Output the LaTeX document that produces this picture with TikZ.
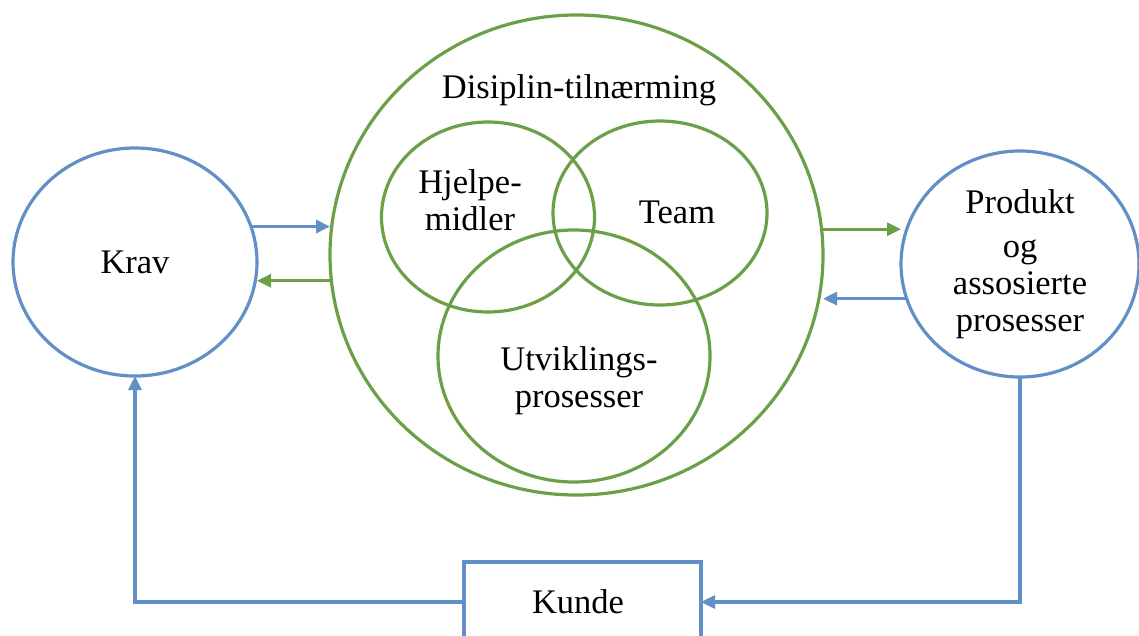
\documentclass[tikz,border=0pt]{standalone}
\usepackage{fontspec}
\setmainfont{Liberation Serif}
\usetikzlibrary{shapes.geometric,arrows.meta}
\definecolor{cblue}{RGB}{96,144,198}
\definecolor{cgreen}{RGB}{108,160,72}
\tikzset{
  bluecirc/.style={ellipse,draw=cblue,line width=3.2pt,inner sep=0pt,outer sep=0pt,align=center},
  greencirc/.style={ellipse,draw=cgreen,line width=3.2pt,inner sep=0pt,outer sep=0pt},
  lbl/.style={inner sep=0pt,outer sep=0pt,align=center},
  barrow/.style={draw=cblue,line width=3.2pt,-{Triangle[length=14pt,width=13pt]}},
  garrow/.style={draw=cgreen,line width=3.2pt,-{Triangle[length=14pt,width=13pt]}},
  kundebox/.style={rectangle,draw=cblue,line width=3.2pt,inner sep=0pt,outer sep=0pt}
}
\begin{document}
\begin{tikzpicture}[x=1pt,y=-1pt,font=\fontsize{34.5}{37}\selectfont]
\useasboundingbox (0,0) rectangle (1139,635);
\clip (0,0) rectangle (1139,635);
\fill[white] (0,0) rectangle (1139,635);
% main circles
\node[bluecirc,minimum width=244pt,minimum height=228pt] (krav) at (135,262) {Krav};
\node[greencirc,minimum width=493pt,minimum height=480pt] (big) at (576.5,255) {};
\node[bluecirc,minimum width=238pt,minimum height=226pt] (prod) at (1020,264)
  {Produkt\\[7pt]og\\assosierte\\prosesser};
% venn circles
\node[greencirc,minimum width=213pt,minimum height=190pt] (hj) at (488,217) {};
\node[greencirc,minimum width=214pt,minimum height=184pt] (team) at (660,213) {};
\node[greencirc,minimum width=272pt,minimum height=252pt] (utv) at (574,356) {};
% labels
\node[lbl] (disiplin) at (579,90) {Disiplin-tilnærming};
\node[lbl] (hjtxt) at (470,200) {Hjelpe-\\midler};
\node[lbl] (teamtxt) at (677,212) {Team};
\node[lbl] (utvtxt) at (579,381) {Utviklings-\\prosesser};
% Kunde
\node[kundebox,minimum width=237pt,minimum height=98pt] (kunde) at (582.5,611) {};
\node[lbl] (kundetxt) at (578,602) {Kunde};
% connectors
\draw[barrow] (krav.17.6) -- (krav.17.6 -| big.west);
\draw[garrow] (big.186.3) -- (big.186.3 -| krav.east);
\draw[garrow] (big.6.5) -- (big.6.5 -| prod.west);
\draw[barrow] (prod.197.4) -- (prod.197.4 -| big.east);
\draw[barrow] (prod.south) |- (kunde.east |- kundetxt);
\draw[barrow] (kunde.west |- kundetxt) -| (krav.south);
\end{tikzpicture}
\end{document}
